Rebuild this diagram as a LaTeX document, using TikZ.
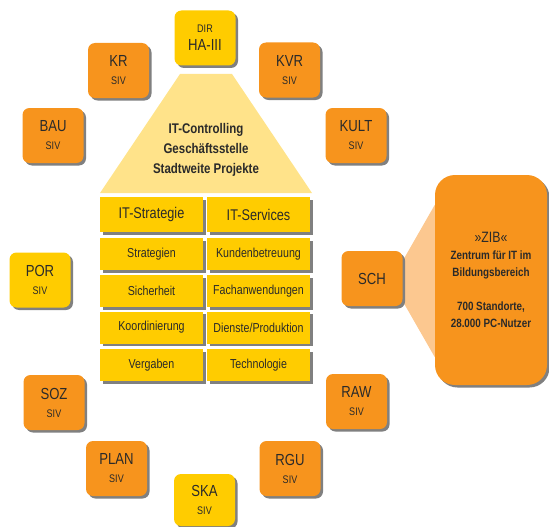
\documentclass[tikz,border=0pt]{standalone}
\usepackage{fontspec}
\setmainfont{Liberation Sans}[FakeStretch=0.82]
\usetikzlibrary{calc,shadows,backgrounds}
\definecolor{orng}{HTML}{F7941D}
\definecolor{yel}{HTML}{FFCC00}
\definecolor{trapc}{HTML}{FFE38A}
\definecolor{connc}{HTML}{FCC890}
\definecolor{txt}{HTML}{2A2A2A}
\newcommand{\sivtext}[1]{#1\\[0pt]{\fontsize{11}{12}\selectfont SIV}}
\tikzset{
  shad/.style={drop shadow={shadow xshift=2.5pt,shadow yshift=-2.5pt,fill=black!50,opacity=1}},
  unit/.style={shad,rounded corners=7pt,minimum width=61pt,minimum height=55pt,inner sep=0pt,
    align=center,text=txt,font=\fontsize{16}{18}\selectfont},
  ounit/.style={unit,fill=orng},
  yunit/.style={unit,fill=yel},
  cell/.style={shad,fill=yel,minimum width=103pt,minimum height=32pt,inner sep=0pt,text=txt,
    font=\fontsize{13}{15}\selectfont},
  headcell/.style={cell,minimum height=35pt,font=\fontsize{15.5}{17}\selectfont},
  trap/.style={fill=trapc},
  conn/.style={fill=connc},
}
\begin{document}
\begin{tikzpicture}[x=1pt,y=-1pt]
\useasboundingbox (0,0) rectangle (549,527);
% pyramid top
\fill[trap] (180,74) -- (232,74) -- (312,193) -- (100,193) -- cycle;
\node[align=center,text=txt,font=\bfseries\fontsize{14}{20}\selectfont] (ctrl) at (206,150)
  {IT-Controlling\\Geschäftsstelle\\Stadtweite Projekte};
% units
\node[yunit] (dir) at (205,38) {{\fontsize{11}{12}\selectfont DIR}\\[0pt]HA-III};
\node[ounit] (kr) at (118.5,70.5) {\sivtext{KR}};
\node[ounit] (kvr) at (289.5,70) {\sivtext{KVR}};
\node[ounit] (bau) at (53,135.5) {\sivtext{BAU}};
\node[ounit] (kult) at (356,135.5) {\sivtext{KULT}};
\node[yunit] (por) at (40,280) {\sivtext{POR}};
\node[ounit] (sch) at (372,278.5) {SCH};
\node[ounit] (soz) at (54,402.5) {\sivtext{SOZ}};
\node[ounit] (raw) at (356.5,401.5) {\sivtext{RAW}};
\node[ounit] (plan) at (116.5,468.5) {\sivtext{PLAN}};
\node[ounit] (rgu) at (290,468.5) {\sivtext{RGU}};
\node[yunit,minimum height=52pt] (ska) at (204.5,500) {\sivtext{SKA}};
% grid
\node[headcell] (its) at (151.5,214.5) {IT-Strategie};
\node[headcell] (itv) at (258.5,214.5) {IT-Services};
\node[cell] (s1) at (151.5,254) {Strategien};
\node[cell] (v1) at (258.5,254) {Kundenbetreuung};
\node[cell] (s2) at (151.5,291) {Sicherheit};
\node[cell] (v2) at (258.5,291) {Fachanwendungen};
\node[cell] (s3) at (151.5,327.5) {Koordinierung};
\node[cell] (v3) at (258.5,327.5) {Dienste/Produktion};
\node[cell] (s4) at (151.5,365) {Vergaben};
\node[cell] (v4) at (258.5,365) {Technologie};
% ZIB
\node[shad,fill=orng,rounded corners=20pt,minimum width=112pt,minimum height=210pt,inner sep=0pt,
  align=center,text=txt,font=\bfseries\fontsize{12}{17}\selectfont] (zib) at (491,280)
  {{\mdseries\fontsize{15}{17}\selectfont »ZIB«}\\Zentrum für IT im\\Bildungsbereich\\[17pt]700 Standorte,\\28.000 PC-Nutzer};
\begin{scope}[on background layer]
\fill[conn] ($(sch.north east)+(0,10)$) -- ($(zib.north west)+(0,30)$)
  -- ($(zib.south west)+(0,-28)$) -- ($(sch.south east)+(0,-5)$) -- cycle;
\end{scope}
\end{tikzpicture}
\end{document}
